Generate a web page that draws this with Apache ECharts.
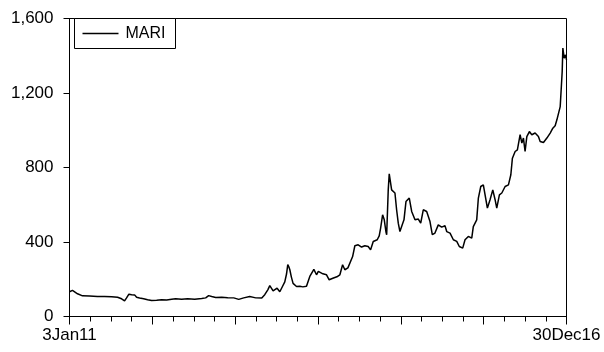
<!DOCTYPE html>
<html>
<head>
<meta charset="utf-8">
<script src="https://cdn.jsdelivr.net/npm/echarts@6/dist/echarts.min.js"></script>
<style>
  html, body { margin: 0; padding: 0; background: #fff; }
  #chart { width: 604px; height: 352px; }
</style>
</head>
<body>
<div id="chart"></div>
<script>
// Observation time as fractional years (2011.0 = 3 Jan 2011, 2017.0 = 30 Dec 2016)
const years = [
  2011.000, 2011.036, 2011.060, 2011.097, 2011.157, 2011.242, 2011.338, 2011.423, 2011.508, 2011.580,
  2011.629, 2011.665, 2011.689, 2011.717, 2011.750, 2011.786, 2011.810, 2011.846, 2011.895, 2011.943,
  2011.991, 2012.052, 2012.112, 2012.173, 2012.233, 2012.281, 2012.354, 2012.426, 2012.511, 2012.596,
  2012.644, 2012.680, 2012.717, 2012.765, 2012.838, 2012.910, 2012.983, 2013.043, 2013.103, 2013.176,
  2013.249, 2013.321, 2013.357, 2013.394, 2013.418, 2013.458, 2013.506, 2013.539, 2013.571, 2013.599,
  2013.620, 2013.635, 2013.648, 2013.660, 2013.678, 2013.699, 2013.741, 2013.781, 2013.817, 2013.861,
  2013.901, 2013.950, 2013.982, 2014.004, 2014.022, 2014.059, 2014.103, 2014.135, 2014.179, 2014.228,
  2014.264, 2014.297, 2014.324, 2014.361, 2014.385, 2014.418, 2014.445, 2014.485, 2014.526, 2014.566,
  2014.606, 2014.635, 2014.667, 2014.715, 2014.739, 2014.756, 2014.780, 2014.800, 2014.820, 2014.829,
  2014.848, 2014.860, 2014.889, 2014.929, 2014.949, 2014.969, 2014.989, 2015.017, 2015.038, 2015.062,
  2015.086, 2015.102, 2015.131, 2015.171, 2015.211, 2015.240, 2015.271, 2015.312, 2015.352, 2015.380,
  2015.412, 2015.452, 2015.493, 2015.533, 2015.554, 2015.594, 2015.634, 2015.675, 2015.706, 2015.747,
  2015.775, 2015.815, 2015.856, 2015.875, 2015.916, 2015.936, 2015.965, 2015.996, 2016.017, 2016.045,
  2016.077, 2016.110, 2016.138, 2016.158, 2016.190, 2016.219, 2016.259, 2016.299, 2016.328, 2016.347,
  2016.380, 2016.407, 2016.440, 2016.461, 2016.480, 2016.500, 2016.521, 2016.552, 2016.581, 2016.621,
  2016.661, 2016.682, 2016.722, 2016.763, 2016.803, 2016.835, 2016.863, 2016.884, 2016.908, 2016.924,
  2016.939, 2016.948, 2016.956, 2016.972, 2016.988, 2017.000
];

// MARI closing level
const mari = [
  133, 140, 135, 122, 111, 110, 107, 108, 106, 103,
  95, 84, 100, 120, 117, 116, 103, 99, 95, 90,
  86, 87, 90, 88, 92, 95, 93, 95, 93, 97,
  100, 112, 107, 102, 103, 101, 100, 92, 100, 107,
  100, 99, 117, 143, 166, 138, 152, 133, 161, 186,
  228, 278, 267, 251, 213, 178, 161, 162, 159, 163,
  215, 253, 224, 242, 236, 229, 224, 197, 205, 213,
  224, 278, 251, 261, 268, 322, 380, 385, 373, 380,
  376, 358, 403, 412, 433, 475, 546, 519, 455, 439,
  680, 766, 680, 663, 573, 501, 456, 492, 519, 617,
  627, 636, 564, 519, 523, 501, 573, 564, 510, 439,
  448, 492, 480, 487, 456, 448, 412, 403, 376, 367,
  412, 430, 421, 483, 519, 636, 698, 707, 707, 582,
  627, 680, 627, 582, 653, 663, 698, 707, 761, 850,
  886, 895, 976, 931, 958, 886, 966, 993, 976, 985,
  966, 940, 934, 958, 985, 1011, 1024, 1056, 1065, 1127,
  1244, 1315, 1441, 1387, 1405, 1378
];

const seriesName = 'MARI';
const yTicks = [0, 400, 800, 1200, 1600];
const xEndLabels = { 2011: '3Jan11', 2017: '30Dec16' };

const FONT = "'Liberation Sans', Arial, Helvetica, sans-serif";
const chart = echarts.init(document.getElementById('chart'), null, { renderer: 'canvas' });

chart.setOption({
  animation: false,
  backgroundColor: '#ffffff',
  grid: {
    left: 69.5, right: 37.5, top: 18.5, bottom: 35.5,
    show: true, borderColor: '#000', borderWidth: 1, backgroundColor: 'transparent'
  },
  legend: {
    left: 74.5, top: 18.5,
    data: [{ name: seriesName, icon: 'rect' }],
    backgroundColor: '#fff',
    borderColor: '#000', borderWidth: 1,
    padding: [7, 10, 7, 8],
    itemWidth: 36, itemHeight: 1.3,
    itemStyle: { color: '#000', borderWidth: 0 },
    textStyle: { fontFamily: FONT, fontSize: 16, color: '#000', padding: [0, 0, 0, 2] }
  },
  xAxis: {
    type: 'value',
    min: 2011, max: 2017, interval: 1,
    axisLine: { show: true, lineStyle: { color: '#000', width: 1 } },
    axisTick: { show: true, inside: false, length: 8, lineStyle: { color: '#000' } },
    minorTick: { show: true, splitNumber: 4, length: 5, lineStyle: { color: '#000' } },
    splitLine: { show: false },
    axisLabel: {
      showMinLabel: true, showMaxLabel: true,
      margin: 10, color: '#000', fontFamily: FONT, fontSize: 17,
      formatter: v => xEndLabels[Math.round(v)] && Math.abs(v - Math.round(v)) < 1e-6 ? xEndLabels[Math.round(v)] : ''
    }
  },
  yAxis: {
    type: 'value',
    min: yTicks[0], max: yTicks[yTicks.length - 1], interval: 400,
    axisLine: { show: true, lineStyle: { color: '#000', width: 1 } },
    axisTick: { show: true, inside: false, length: 6, lineStyle: { color: '#000' } },
    splitLine: { show: false },
    axisLabel: {
      margin: 16, color: '#000', fontFamily: FONT, fontSize: 17,
      formatter: v => v.toLocaleString('en-US')
    }
  },
  series: [{
    name: seriesName,
    type: 'line',
    data: years.map((t, i) => [t, mari[i]]),
    symbol: 'none',
    showSymbol: false,
    lineStyle: { color: '#000', width: 1.5 },
    itemStyle: { color: '#000' }
  }]
});
</script>
</body>
</html>
